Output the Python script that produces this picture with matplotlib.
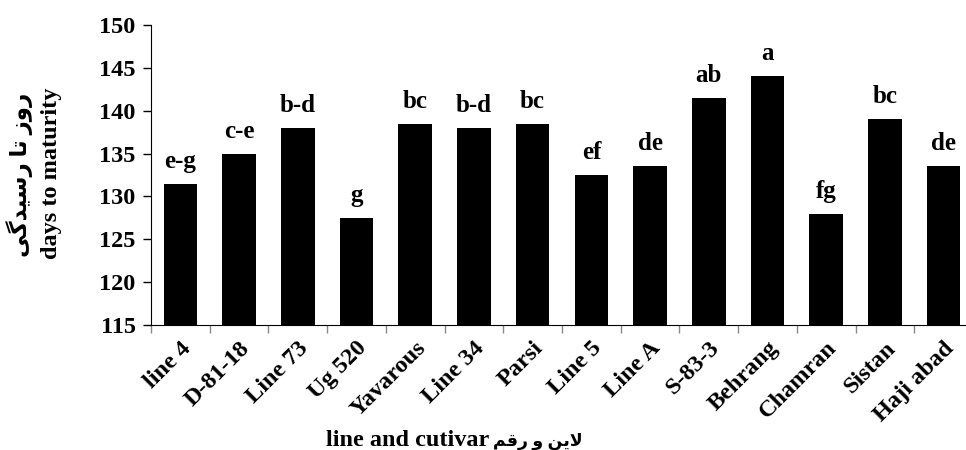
import numpy as np
import matplotlib.pyplot as plt

# days to maturity for each line / cultivar
cultivars = ['line 4', 'D-81-18', 'Line 73', 'Ug 520', 'Yavarous', 'Line 34', 'Parsi',
             'Line 5', 'Line A', 'S-83-3', 'Behrang', 'Chamran', 'Sistan', 'Haji abad']
days = [131.5, 135, 138, 127.5, 138.5, 138, 138.5, 132.5, 133.5, 141.5, 144, 128, 139, 133.5]
groups = ['e-g', 'c-e', 'b-d', 'g', 'bc', 'b-d', 'bc', 'ef', 'de', 'ab', 'a', 'fg', 'bc', 'de']

# persian text written with presentation forms (no shaping engine in matplotlib)
fa_ylabel = '\uFBFD\uFB94\uFEAA\uFBFF\uFEB3\uFEAD \uFE8E\uFE97 \uFEAF\uFEED\uFEAD'   # روز تا رسیدگی
fa_xlabel = '\uFEE2\uFED7\uFEAD \uFEED \uFEE6\uFBFE\uFEFB'                            # لاین و رقم

fonts = ['Liberation Serif', 'DejaVu Sans']
plt.rcParams['font.family'] = fonts
plt.rcParams['font.weight'] = 'bold'
fs = 17.5

fig = plt.figure(figsize=(9.66, 4.5), dpi=100)
ax = fig.add_axes([151 / 966, 1 - 325 / 450, 822 / 966, 300 / 450])

x = np.arange(len(cultivars))
bars = ax.bar(x, [d - 115 for d in days], bottom=115, width=0.57, color='black')

for xi, d, g in zip(x, days, groups):
    ax.annotate(g, (xi, d), xytext=(0, 11.5), textcoords='offset points',
                ha='center', va='baseline', fontsize=fs + 0.5, fontweight='bold')

ax.set_ylim(115, 150)
ax.set_yticks(range(115, 151, 5))
ax.set_xlim(-0.5, len(cultivars) - 0.5)

# tick marks sit between the bars, names sit under them
ax.set_xticks(np.arange(-0.5, len(cultivars), 1))
ax.set_xticklabels([])
ax.tick_params(axis='x', which='major', length=6, color='#888888', width=1)
ax.set_xticks(x, minor=True)
ax.set_xticklabels(cultivars, minor=True, rotation=45, ha='right',
                   rotation_mode='anchor', fontsize=fs, fontweight='bold')
ax.tick_params(axis='x', which='minor', length=0, pad=9)
ax.tick_params(axis='y', length=6, width=1, labelsize=fs, pad=5)
for lab in ax.get_yticklabels():
    lab.set_fontweight('bold')

ax.spines['top'].set_visible(False)
ax.spines['right'].set_visible(False)

# two-line y title: persian above, english below
fig.text(20 / 966, 1 - 175 / 450, fa_ylabel, rotation=90, ha='center', va='center',
         fontsize=fs - 1, fontweight='bold')
fig.text(52 / 966, 1 - 173 / 450, 'days to maturity', rotation=90, ha='center',
         va='center', fontsize=fs, fontweight='bold', family='Liberation Serif')

fig.text(489 / 966, 1 - 446 / 450, 'line and cutivar', ha='right', va='baseline',
         fontsize=fs, fontweight='bold', family='Liberation Serif')
fig.text(493 / 966, 1 - 446 / 450, fa_xlabel, ha='left', va='baseline',
         fontsize=12.5, fontweight='bold')

fig.savefig('out.png', dpi=100)
